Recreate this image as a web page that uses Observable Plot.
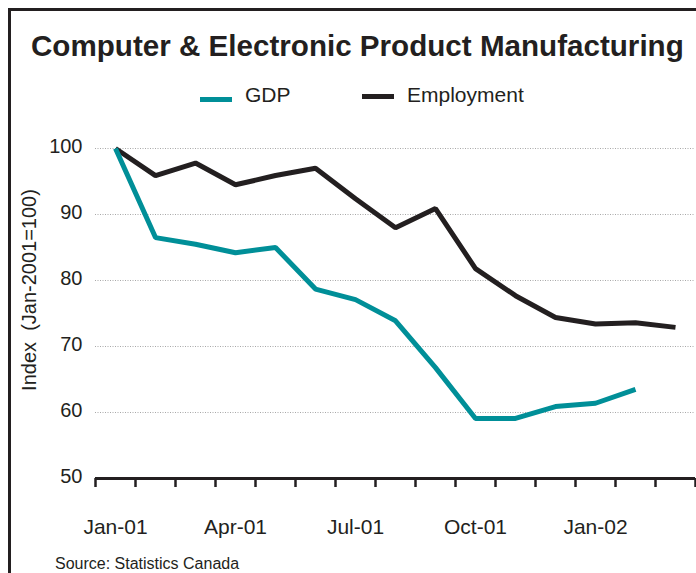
<!DOCTYPE html>
<html>
<head>
<meta charset="utf-8">
<script src="https://cdn.jsdelivr.net/npm/d3@7"></script>
<script src="https://cdn.jsdelivr.net/npm/@observablehq/plot@0.6"></script>
<style>
  html, body { margin: 0; padding: 0; background: #fff; }
  body { width: 696px; height: 573px; position: relative; overflow: hidden;
         font-family: "Liberation Sans", Arial, Helvetica, sans-serif; color: #231f20; }
  #frame { position: absolute; left: 8px; top: 8px; width: 700px; height: 600px;
           border-top: 3px solid #231f20; border-left: 3px solid #231f20; box-sizing: border-box; }
  #title { position: absolute; left: 31px; top: 31px; font-size: 29.6px; font-weight: bold;
           white-space: nowrap; line-height: 1; }
  .leg { position: absolute; top: 84px; font-size: 21px; white-space: nowrap; line-height: 1; }
  .sw { position: absolute; height: 5px; }
  #ylabel { position: absolute; left: 29px; top: 290px; font-size: 20px; white-space: pre;
            transform: translate(-50%, -50%) rotate(-90deg); line-height: 1; }
  #source { position: absolute; left: 55px; top: 556px; font-size: 16px; white-space: nowrap; line-height: 1; }
  #chart { position: absolute; left: 0; top: 120px; }
</style>
</head>
<body>
<div id="frame"></div>
<div id="title">Computer &amp; Electronic Product Manufacturing</div>
<div class="sw" id="sw1" style="left:200px; top:97px; width:32px;"></div>
<div class="leg" id="lg1" style="left:245px;"></div>
<div class="sw" id="sw2" style="left:362px; top:94px; width:32px;"></div>
<div class="leg" id="lg2" style="left:407px;"></div>
<div id="ylabel">Index  (Jan-2001=100)</div>
<div id="chart"></div>
<div id="source">Source: Statistics Canada</div>
<script>
const months = ["Jan-01","Feb-01","Mar-01","Apr-01","May-01","Jun-01","Jul-01","Aug-01","Sep-01","Oct-01","Nov-01","Dec-01","Jan-02","Feb-02","Mar-02"];
const gdp = [100, 86.5, 85.5, 84.2, 85.0, 78.7, 77.1, 73.9, 66.8, 59.1, 59.1, 60.9, 61.4, 63.5];
const employment = [100, 95.9, 97.8, 94.5, 95.9, 97.0, 92.4, 88.0, 90.9, 81.8, 77.7, 74.4, 73.4, 73.6, 72.9];
const seriesNames = ["GDP", "Employment"];
const seriesColors = ["#008f98", "#231f20"];
const yTicks = [50, 60, 70, 80, 90, 100];
const xLabels = ["Jan-01", "Apr-01", "Jul-01", "Oct-01", "Jan-02"];

// legend
document.getElementById("lg1").textContent = seriesNames[0];
document.getElementById("lg2").textContent = seriesNames[1];
document.getElementById("sw1").style.background = seriesColors[0];
document.getElementById("sw2").style.background = seriesColors[1];

const idx = months.map((m, i) => i);
const edges = months.map((m, i) => i - 0.5).concat([months.length - 0.5]);
const labelIdx = xLabels.map(l => months.indexOf(l));

const chart = Plot.plot({
  width: 696,
  height: 453,
  marginTop: 28,
  marginBottom: 95,
  marginLeft: 95,
  marginRight: 1,
  style: { fontFamily: "'Liberation Sans', Arial, Helvetica, sans-serif", color: "#231f20", background: "transparent" },
  x: { type: "linear", domain: [-0.5, months.length - 0.5], axis: null },
  y: { domain: [50, 100], axis: null },
  marks: [
    Plot.gridY(yTicks.filter(v => v > 50), { stroke: "#a8a8a8", strokeOpacity: 1, strokeWidth: 1, strokeDasharray: "1,1.5" }),
    Plot.axisY(yTicks, { tickSize: 0, tickPadding: 13, fontSize: 20, dy: -2, label: null, fill: "#231f20" }),
    Plot.axisX(edges, { tickSize: 9, strokeWidth: 2.5, stroke: "#231f20", tickFormat: () => "", label: null }),
    Plot.axisX(labelIdx, { tickSize: 0, tickPadding: 41, fontSize: 21, tickFormat: i => months[i], label: null, fill: "#231f20" }),
    Plot.ruleY([50], { stroke: "#231f20", strokeWidth: 3 }),
    Plot.line(employment, { x: (d, i) => idx[i], y: d => d, stroke: seriesColors[1], strokeWidth: 5, strokeLinejoin: "miter", strokeLinecap: "butt" }),
    Plot.line(gdp, { x: (d, i) => idx[i], y: d => d, stroke: seriesColors[0], strokeWidth: 5, strokeLinejoin: "miter", strokeLinecap: "butt" })
  ]
});
document.getElementById("chart").appendChild(chart);
</script>
</body>
</html>
